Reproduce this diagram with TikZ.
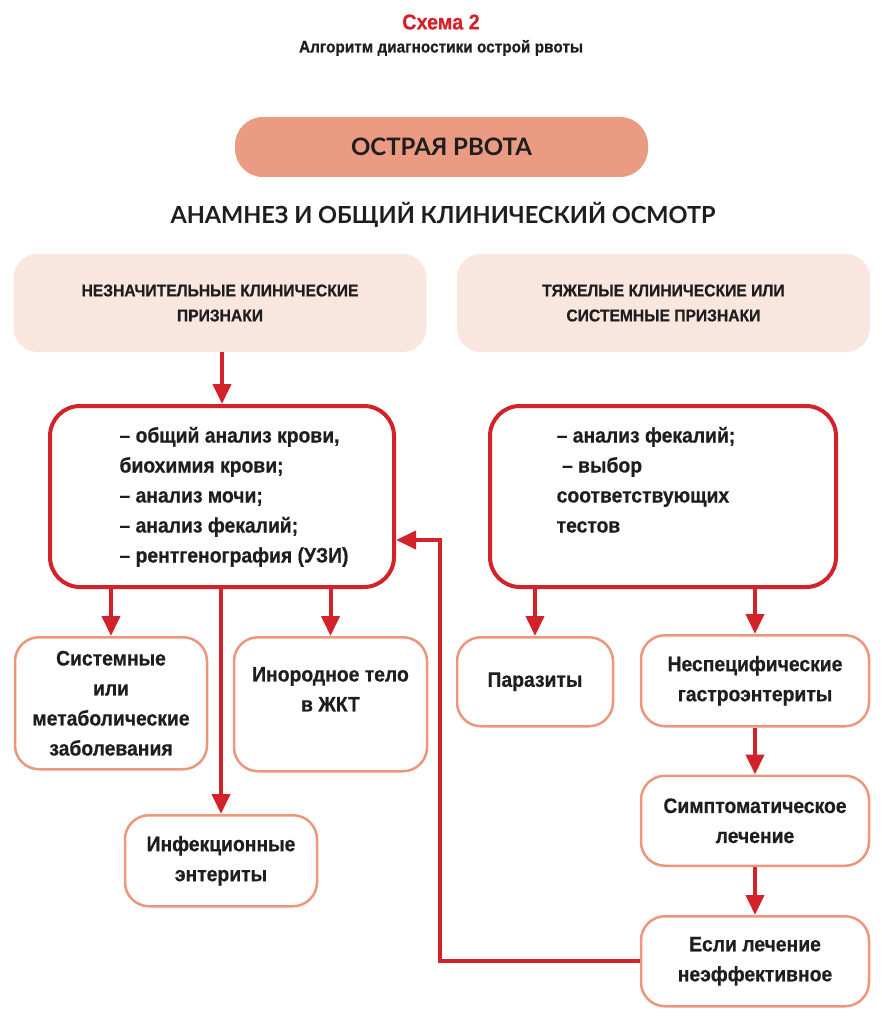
\documentclass[tikz,border=0pt]{standalone}
\usepackage{fontspec}
\setmainfont{Liberation Sans}
\newfontfamily\narrowfont[FakeStretch=0.92, FakeBold=0.6]{Liberation Sans}
\newfontfamily\headfont{Lato}
\usetikzlibrary{arrows.meta, positioning}
\definecolor{redline}{RGB}{210,35,42}
\definecolor{salmonfill}{RGB}{234,155,130}
\definecolor{palepink}{RGB}{249,230,222}
\definecolor{peachline}{RGB}{236,150,124}
\definecolor{inkblack}{RGB}{30,30,30}

\begin{document}
\begin{tikzpicture}[
    x=1pt, y=-1pt,
    every node/.style={text=inkblack},
    acutebox/.style={
        rectangle,
        rounded corners=28pt,
        fill=salmonfill,
        align=center,
        minimum width=413pt,
        minimum height=60pt,
        font=\headfont\bfseries\fontsize{24}{28}\selectfont
    },
    signbox/.style={
        rectangle,
        rounded corners=24pt,
        fill=palepink,
        align=center,
        minimum width=413pt,
        minimum height=98pt,
        font=\narrowfont\bfseries\fontsize{17}{25}\selectfont
    },
    testbox/.style={
        rectangle,
        rounded corners=30pt,
        draw=redline,
        line width=4pt,
        anchor=north,
        minimum height=181pt,
        font=\narrowfont\bfseries\fontsize{21}{30}\selectfont
    },
    resultbox/.style={
        rectangle,
        rounded corners=24pt,
        draw=peachline,
        line width=2.5pt,
        anchor=north,
        align=center,
        font=\narrowfont\bfseries\fontsize{21}{30}\selectfont
    },
    arrow/.style={-{Triangle[width=18pt, length=20pt]}, line width=4pt, draw=redline}
]
\useasboundingbox (0,0) rectangle (881,1024);

% ---------------- Заголовок ----------------
\node[text=redline, font=\narrowfont\bfseries\fontsize{21.5}{26}\selectfont] (title) at (441,22) {Схема 2};
\node[font=\narrowfont\bfseries\fontsize{16.7}{18}\selectfont] (subtitle) at (441,48) {Алгоритм диагностики острой рвоты};

\node[acutebox] (acute) at (441.5,147) {ОСТРАЯ РВОТА};
\node[font=\headfont\bfseries\fontsize{23.5}{26}\selectfont] (history) at (443,215) {АНАМНЕЗ И ОБЩИЙ КЛИНИЧЕСКИЙ ОСМОТР};

\node[signbox] (mild) at (220,303) {НЕЗНАЧИТЕЛЬНЫЕ КЛИНИЧЕСКИЕ\\ПРИЗНАКИ};
\node[signbox, right=30pt of mild] (severe) {ТЯЖЕЛЫЕ КЛИНИЧЕСКИЕ ИЛИ\\СИСТЕМНЫЕ ПРИЗНАКИ};

% ---------------- Обследование ----------------
\node[testbox, minimum width=344pt] (tests) at (222,404) {\hspace*{24pt}\begin{tabular}{@{}l@{}}
– общий анализ крови,\\
биохимия крови;\\
– анализ мочи;\\
– анализ фекалий;\\
– рентгенография (УЗИ)
\end{tabular}};
\node[testbox, minimum width=346pt] (stool) at (663,404) {\begin{tabular}{@{}l@{}}
– анализ фекалий;\\
\ – выбор\\
соответствующих\\
тестов\\
{}
\end{tabular}\hspace*{34pt}};

% ---------------- Результаты ----------------
\node[resultbox, minimum width=192pt, minimum height=132pt] (systemic) at (111,636) {Системные\\или\\метаболические\\заболевания};
\node[resultbox, minimum width=193pt, minimum height=134pt] (foreign) at (330.5,636) {Инородное тело\\в ЖКТ\\{}};
\node[resultbox, minimum width=192pt, minimum height=91pt] (infect) at (221,814) {Инфекционные\\энтериты};

\node[resultbox, minimum width=156pt, minimum height=89pt] (parasites) at (535,636) {Паразиты};
\node[resultbox, minimum width=228pt, minimum height=91pt] (nonspec) at (755,634) {Неспецифические\\гастроэнтериты};
\node[resultbox, minimum width=228pt, minimum height=90pt, below=47pt of nonspec] (sympt) {Симптоматическое\\лечение};
\node[resultbox, minimum width=228pt, minimum height=90pt, below=48pt of sympt] (fail) {Если лечение\\неэффективное};

% ---------------- Стрелки ----------------
\draw[arrow] (tests.north |- mild.south) -- (tests.north);
\draw[arrow] (systemic.north |- tests.south) -- (systemic.north);
\draw[arrow] (infect.north |- tests.south) -- (infect.north);
\draw[arrow] (foreign.north |- tests.south) -- (foreign.north);
\draw[arrow] (parasites.north |- stool.south) -- (parasites.north);
\draw[arrow] (nonspec.north |- stool.south) -- (nonspec.north);
\draw[arrow] (nonspec) -- (sympt);
\draw[arrow] (sympt) -- (fail);

\coordinate (loop) at (440,540);
\draw[arrow] (fail.west) -| (loop) -- (loop -| tests.east);

\end{tikzpicture}
\end{document}
